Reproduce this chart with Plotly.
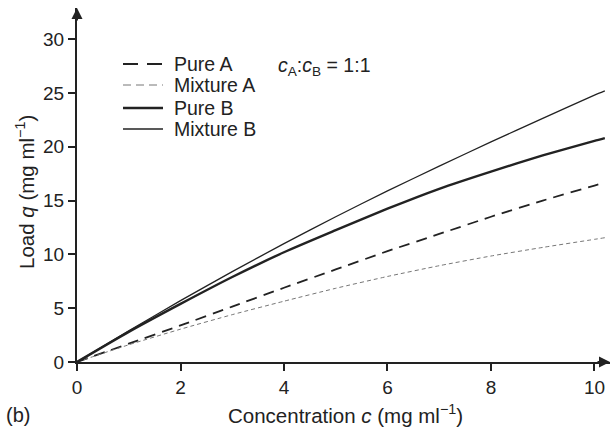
import plotly.graph_objects as go

conc = [0, 1, 2, 3, 4, 5, 6, 7, 8, 9, 10, 10.2]
conc_pure_a = [0, 1, 2, 3, 4, 5, 6, 7, 8, 9, 10, 10.1]
pure_a = [0, 1.7, 3.4, 5.15, 6.9, 8.6, 10.3, 11.9, 13.5, 15.0, 16.4, 16.55]
mix_a = [0, 1.6, 3.05, 4.4, 5.65, 6.85, 7.95, 8.95, 9.85, 10.65, 11.4, 11.55]
pure_b = [0, 2.8, 5.4, 7.9, 10.2, 12.25, 14.25, 16.1, 17.7, 19.2, 20.55, 20.8]
mix_b = [0, 2.9, 5.7, 8.4, 11.0, 13.5, 15.9, 18.2, 20.45, 22.65, 24.8, 25.2]

series_names = ["Pure A", "Mixture A", "Pure B", "Mixture B"]
x_ticks = [0, 2, 4, 6, 8, 10]
y_ticks = [0, 5, 10, 15, 20, 25, 30]

FONT = "Liberation Sans, Arial, Helvetica, sans-serif"
INK = "#222"
W, H = 613, 432
L, R, T, B = 77, 3, 8, 70
PW, PH = W - L - R, H - T - B


def px(xp):
    return (xp - L) / PW


def py(yp):
    return (H - B - yp) / PH


styles = [
    dict(color=INK, width=1.8, dash="11px,7px"),
    dict(color="#777", width=1.0, dash="4px,3px"),
    dict(color=INK, width=2.4),
    dict(color=INK, width=1.3),
]

fig = go.Figure()
fig.add_trace(go.Scatter(x=conc_pure_a, y=pure_a, mode="lines", name=series_names[0],
                         line=dict(styles[0], shape="spline", smoothing=0.6)))
fig.add_trace(go.Scatter(x=conc, y=mix_a, mode="lines", name=series_names[1],
                         line=dict(styles[1], shape="spline", smoothing=0.6)))
fig.add_trace(go.Scatter(x=conc, y=pure_b, mode="lines", name=series_names[2],
                         line=dict(styles[2], shape="spline", smoothing=0.6)))
fig.add_trace(go.Scatter(x=conc, y=mix_b, mode="lines", name=series_names[3],
                         line=dict(styles[3], shape="spline", smoothing=0.6)))

fig.update_layout(
    width=W, height=H,
    margin=dict(l=L, r=R, t=T, b=B),
    paper_bgcolor="white", plot_bgcolor="white",
    font=dict(family=FONT, size=19, color=INK),
    showlegend=False,
    xaxis=dict(range=[0, 10.3], tickvals=x_ticks, ticks="outside", ticklen=7,
               tickwidth=1.5, tickcolor=INK, showline=True, linecolor=INK,
               linewidth=2, showgrid=False, zeroline=False),
    yaxis=dict(range=[0, 32.9], tickvals=y_ticks, ticks="outside", ticklen=7,
               tickwidth=1.5, tickcolor=INK, showline=True, linecolor=INK,
               linewidth=2, showgrid=False, zeroline=False),
)

# axis arrows
fig.add_annotation(x=1, y=0, xref="paper", yref="paper", ax=-14, ay=0,
                   showarrow=True, arrowhead=2, arrowsize=1.1, arrowwidth=2,
                   arrowcolor=INK, text="", standoff=0)
fig.add_annotation(x=0, y=1, xref="paper", yref="paper", ax=0, ay=14,
                   showarrow=True, arrowhead=2, arrowsize=1.1, arrowwidth=2,
                   arrowcolor=INK, text="", standoff=0)

# manual legend
legend_rows = [64, 85, 108, 129]
for name, st, yr in zip(series_names, styles, legend_rows):
    lst = dict(st)
    if name == "Pure A":
        lst["dash"] = "15px,9px"
    elif name == "Mixture A":
        lst["dash"] = "8px,5px"
    fig.add_shape(type="line", xref="paper", yref="paper",
                  x0=px(123), x1=px(163), y0=py(yr), y1=py(yr), line=lst)
    fig.add_annotation(x=px(172), y=py(yr), xref="paper", yref="paper",
                       xanchor="left", yanchor="middle", showarrow=False,
                       text=name, font=dict(size=19.5))

fig.add_annotation(x=px(276), y=py(66), xref="paper", yref="paper", xanchor="left",
                   yanchor="middle", showarrow=False,
                   text="<i>c</i><sub>A</sub>:<i>c</i><sub>B</sub> = 1:1",
                   font=dict(size=19.5))

# axis titles
fig.add_annotation(x=px(345), y=py(414), xref="paper", yref="paper",
                   xanchor="center", yanchor="middle", showarrow=False,
                   text="Concentration <i>c</i> (mg ml<sup>−1</sup>)", font=dict(size=20.5))
fig.add_annotation(x=px(25), y=py(192), xref="paper", yref="paper",
                   xanchor="center", yanchor="middle", showarrow=False, textangle=-90,
                   text="Load <i>q</i> (mg ml<sup>−1</sup>)", font=dict(size=20.5))
fig.add_annotation(x=px(4), y=py(415), xref="paper", yref="paper", xanchor="left",
                   yanchor="middle", showarrow=False, text="(b)", font=dict(size=20))

fig.write_html("out.html")
